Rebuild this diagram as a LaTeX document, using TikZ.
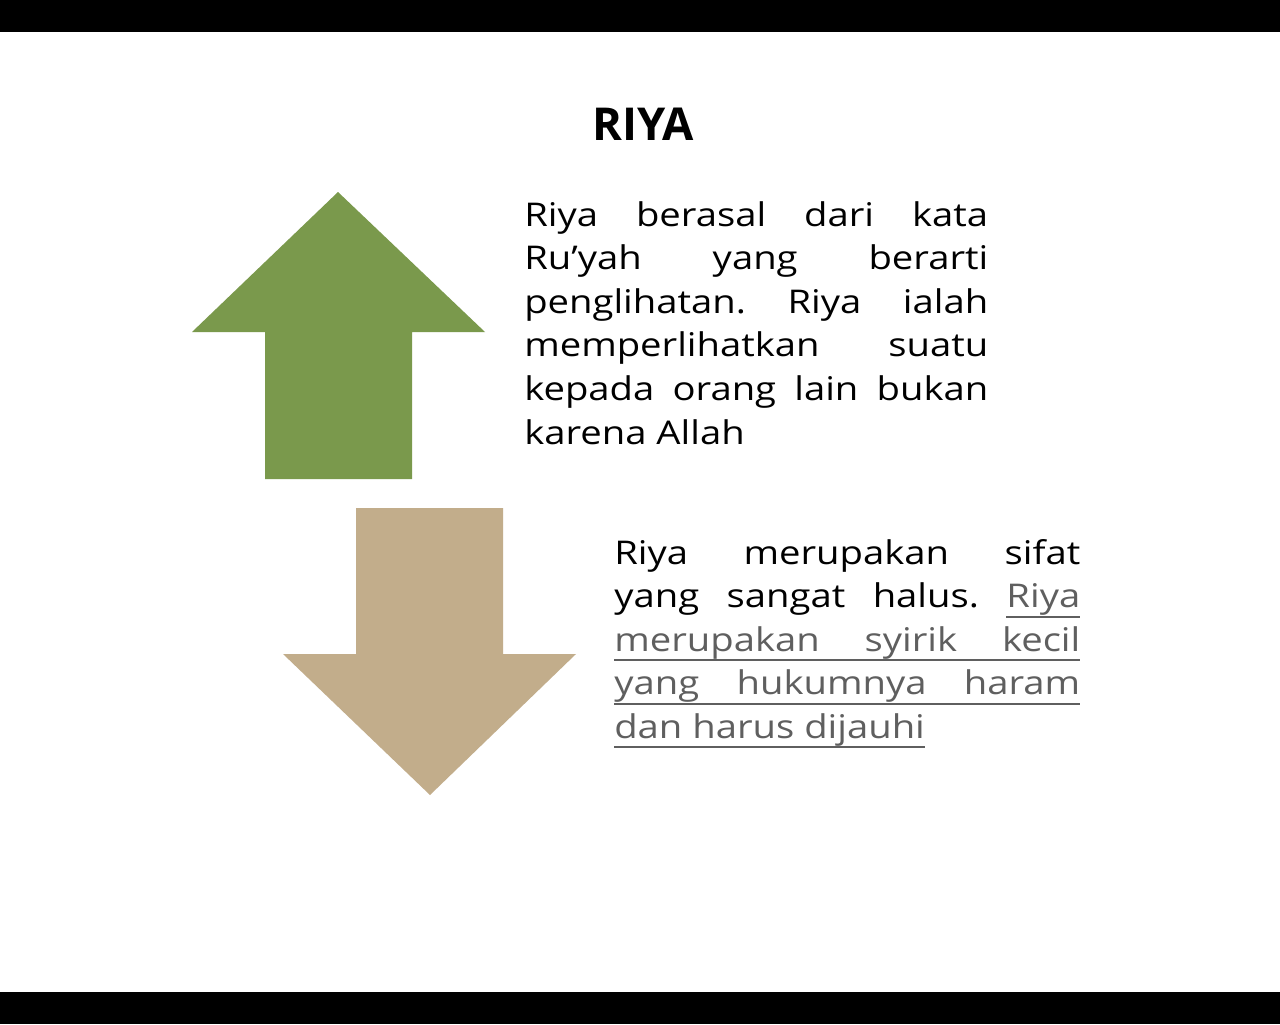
\documentclass[tikz,border=0pt]{standalone}
\usepackage{fontspec}
\setmainfont[Ligatures=NoCommon]{Open Sans}
\newfontfamily\bodyfont[Ligatures=NoCommon,FakeStretch=1.17]{Open Sans}
\definecolor{arrowgreen}{RGB}{122,153,76}
\definecolor{arrowtan}{RGB}{194,173,139}
\definecolor{linkgrey}{RGB}{95,95,95}
\newcommand\ulword[1]{\setbox0\hbox{#1}\rlap{\vrule width\wd0 height -6pt depth 7.5pt}\box0}
\newcommand\ulgap{\leaders\vrule height -6pt depth 7.5pt\hfill}
\newcommand\jline[2]{\hbox to #1{#2}}
\tikzset{
  txtline/.style={anchor=base west, inner sep=0pt, font=\bodyfont\fontsize{24.5}{30}\selectfont},
  titletxt/.style={anchor=base, inner sep=0pt, font=\fontsize{34}{40}\selectfont\bfseries},
}
\begin{document}
\begin{tikzpicture}[x=0.75pt,y=-0.75pt]
\useasboundingbox (0,0) rectangle (1280,1024);
\fill[white] (0,0) rectangle (1280,1024);
\fill[black] (0,0) rectangle (1280,32);
\fill[black] (0,992) rectangle (1280,1024);
% title
\node[titletxt] (title) at (643,140) {RIYA};
% arrows
\fill[arrowgreen] (338,192) -- (485,332) -- (412,332) -- (412,479) -- (265,479) -- (265,332) -- (192,332) -- cycle;
\fill[arrowtan] (356,508) -- (503,508) -- (503,654) -- (576,654) -- (430,795) -- (283,654) -- (356,654) -- cycle;
% block 1
\node[txtline] (a1) at (524,226.0) {\jline{348pt}{Riya\hfill berasal\hfill dari\hfill kata}};
\node[txtline] (a2) at (524,269.6) {\jline{348pt}{Ru’yah\hfill yang\hfill berarti}};
\node[txtline] (a3) at (524,313.2) {\jline{348pt}{penglihatan.\hfill Riya\hfill ialah}};
\node[txtline] (a4) at (524,356.8) {\jline{348pt}{memperlihatkan\hfill suatu}};
\node[txtline] (a5) at (524,400.4) {\jline{348pt}{kepada\hfill orang\hfill lain\hfill bukan}};
\node[txtline] (a6) at (524,444.0) {karena Allah};
% block 2
\node[txtline] (b1) at (614,564.0) {\jline{349.5pt}{Riya\hfill merupakan\hfill sifat}};
\node[txtline] (b2) at (614,607.6) {\jline{349.5pt}{yang\hfill sangat\hfill halus.\hfill\color{linkgrey}\ulword{Riya}}};
\node[txtline, text=linkgrey] (b3) at (614,651.2) {\jline{349.5pt}{\ulword{merupakan}\ulgap\ulword{syirik}\ulgap\ulword{kecil}}};
\node[txtline, text=linkgrey] (b4) at (614,694.8) {\jline{349.5pt}{\ulword{yang}\ulgap\ulword{hukumnya}\ulgap\ulword{haram}}};
\node[txtline, text=linkgrey] (b5) at (614,738.4) {\ulword{dan}\ulword{ }\ulword{harus}\ulword{ }\ulword{dijauhi}};
\end{tikzpicture}
\end{document}
